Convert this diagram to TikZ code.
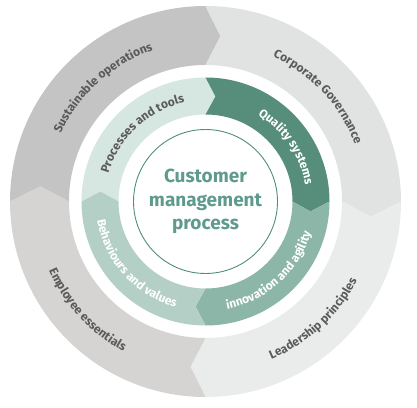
\documentclass[tikz,border=0pt]{standalone}
\usepackage{fontspec}
\setmainfont{Fira Sans}
\usepackage{xcolor}
\usetikzlibrary{decorations.text}
\definecolor{sustops}{HTML}{C4C4C4}
\definecolor{corpgov}{HTML}{E1E2E2}
\definecolor{leadpr}{HTML}{EAEBEB}
\definecolor{empess}{HTML}{D5D4D3}
\definecolor{proctools}{HTML}{D6E6E1}
\definecolor{qualsys}{HTML}{568E7B}
\definecolor{innovag}{HTML}{8CB6A8}
\definecolor{behval}{HTML}{B3CFC6}
\definecolor{hubline}{HTML}{4F8E7C}
\definecolor{hubtxt}{HTML}{5E9B8D}
\definecolor{lbldark}{HTML}{5A5A5A}

\newcommand\darklbl{\fontsize{12}{14}\selectfont\bfseries\color{lbldark}}
\newcommand\lightlbl{\fontsize{12}{14}\selectfont\bfseries\color{white}}

\begin{document}
\begin{tikzpicture}[
        x=1pt, y=1pt,
        arclbl/.style={decorate, decoration={text along path, text align=center, text={#1}}},
        hubtext/.style={align=center, font=\fontsize{19}{23.5}\selectfont\bfseries, text=hubtxt}
    ]
    \useasboundingbox (0,0) rectangle (417,407);
    \def\Oout{195.5pt} \def\Omid{166pt} \def\Oin{136.5pt} \def\dO{5.2}
    \def\Iout{124pt} \def\Imid{105.5pt} \def\Iin{87pt} \def\dI{5.4}

    \begin{scope}[shift={(205.5,205.5)}]
        % ================= outer ring ==========================
        \foreach \a/\b/\col in {180/90/sustops, 90/0/corpgov, 0/-90/leadpr, -90/-180/empess}
        \fill[\col] (\a:\Oout) arc[start angle=\a, end angle=\b, radius=\Oout]
        -- (\b-\dO:\Omid) -- (\b:\Oin) arc[start angle=\b, end angle=\a, radius=\Oin]
        -- (\a-\dO:\Omid) -- cycle;

        % ================= inner ring ==========================
        \foreach \a/\b/\col in {180/90/proctools, 90/0/qualsys, 0/-90/innovag, -90/-180/behval}
        \fill[\col] (\a:\Iout) arc[start angle=\a, end angle=\b, radius=\Iout]
        -- (\b-\dI:\Imid) -- (\b:\Iin) arc[start angle=\b, end angle=\a, radius=\Iin]
        -- (\a-\dI:\Imid) -- cycle;

        % labels, upper half reads clockwise
        \path[arclbl={|\darklbl|Sustainable operations}] (192:160pt) arc[start angle=192, end angle=72, radius=160pt];
        \path[arclbl={|\darklbl|Corporate Governance}] (103:160pt) arc[start angle=103, end angle=-17, radius=160pt];
        \path[arclbl={|\darklbl|Processes and tools}] (193:101pt) arc[start angle=193, end angle=73, radius=101pt];
        \path[arclbl={|\lightlbl|Quality systems}] (94:101pt) arc[start angle=94, end angle=-26, radius=101pt];

        % labels, lower half reads counter-clockwise
        \path[arclbl={|\darklbl|Leadership principles}] (-107.5:171pt) arc[start angle=-107.5, end angle=12.5, radius=171pt];
        \path[arclbl={|\darklbl|Employee essentials}] (162.5:171pt) arc[start angle=162.5, end angle=282.5, radius=171pt];
        \path[arclbl={|\lightlbl|innovation and agility}] (-107.5:110pt) arc[start angle=-107.5, end angle=12.5, radius=110pt];
        \path[arclbl={|\lightlbl|Behaviours and values}] (162:110pt) arc[start angle=162, end angle=282, radius=110pt];

        % hub
        \draw[hubline, line width=0.9pt] (0,0) circle[radius=72pt];
        \node[hubtext] (hub) at (0,0) {Customer\\management\\process};
    \end{scope}
\end{tikzpicture}
\end{document}
